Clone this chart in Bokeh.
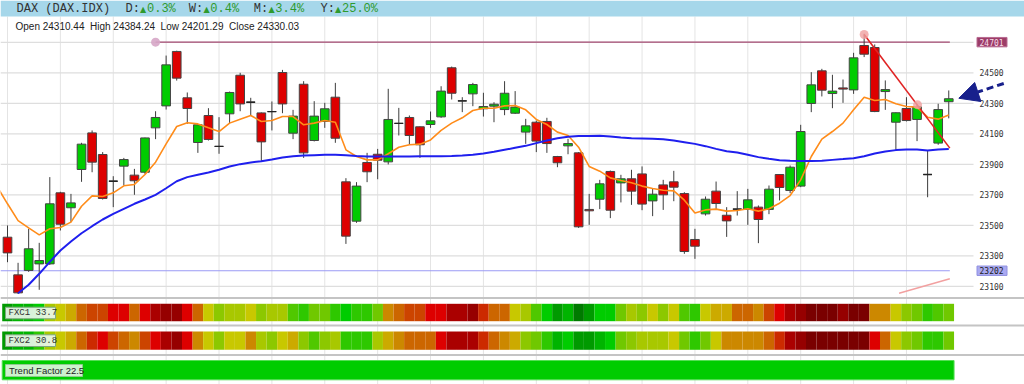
from bokeh.plotting import figure
from bokeh.models import Range1d, Arrow, NormalHead
from bokeh.core.properties import value
from bokeh.embed import file_html
from bokeh.resources import INLINE

# ---------------- data ----------------
title_name = "DAX (DAX.IDX)"
period_labels = ["D:", "W:", "M:", "Y:"]
period_changes = ["0.3%", "0.4%", "3.4%", "25.0%"]
ohlc_caption = "Open 24310.44\u00a0 High 24384.24\u00a0 Low 24201.29\u00a0 Close 24330.03"

open_ = [23422, 23175, 23204, 23247, 23247, 23713, 23615, 23866, 24106, 23964,
         23789, 23888, 23829, 23848, 24139, 24283, 24640, 24336, 24043, 24220,
         24017, 24231, 24484, 24307, 24237, 24246, 24502, 24104, 24425, 24056,
         24181, 24340, 23785, 23527, 23912, 23966, 23916, 24168, 24207, 24146,
         24161, 24211, 24533, 24316, 24362, 24264, 24281, 24259, 24235, 24111,
         24176, 24181, 23951, 24021, 23975, 23604, 23671, 23853, 23778, 23805,
         23837, 23660, 23765, 23785, 23708, 23407, 23575, 23724, 23566, 23606,
         23604, 23619, 23604, 23833, 23728, 23757, 24299, 24513, 24364, 24401,
         24388, 24679, 24666, 24377, 24176, 24266, 24194, 23833, 24039, 24310.44]
high = [23499, 23254, 23477, 23385, 23816, 23720, 23706, 24041, 24122, 23980,
        23822, 23942, 23870, 24075, 24248, 24613, 24645, 24371, 24162, 24268,
        24209, 24377, 24500, 24336, 24240, 24312, 24519, 24257, 24445, 24314,
        24303, 24434, 23809, 23783, 23975, 24001, 24395, 24270, 24220, 24148,
        24246, 24412, 24541, 24340, 24434, 24369, 24307, 24445, 24380, 24198,
        24187, 24205, 23955, 24067, 23980, 23706, 23798, 23859, 23831, 23864,
        23886, 23741, 23798, 23857, 23717, 23477, 23689, 23787, 23619, 23724,
        23739, 23630, 23761, 23835, 23892, 24159, 24504, 24526, 24487, 24456,
        24631, 24756, 24686, 24450, 24240, 24340, 24292, 23990, 24297, 24384.24]
low = [23258, 23050, 23195, 23077, 23240, 23466, 23521, 23785, 23848, 23669,
       23619, 23761, 23700, 23837, 24065, 24259, 24449, 24165, 23975, 24056,
       23969, 24170, 24248, 24220, 23920, 24122, 24235, 24065, 23942, 24050,
       24139, 24041, 23378, 23516, 23783, 23802, 23899, 24089, 24032, 23942,
       24139, 24205, 24325, 24242, 24281, 24213, 24176, 24222, 24230, 24034,
       23980, 23975, 23881, 23966, 23483, 23503, 23606, 23547, 23650, 23634,
       23599, 23560, 23601, 23658, 23313, 23280, 23564, 23604, 23424, 23564,
       23503, 23383, 23573, 23663, 23711, 23750, 24242, 24345, 24268, 24303,
       24362, 24603, 24242, 24257, 23990, 24181, 24052, 23684, 24028, 24201.29]
close = [23319, 23057, 23346, 23269, 23641, 23507, 23647, 24032, 23914, 23676,
         23789, 23931, 23792, 24073, 24207, 24552, 24465, 24266, 24159, 24063,
         24017, 24371, 24296, 24307, 24047, 24246, 24296, 24216, 23975, 24216,
         24264, 24071, 23429, 23757, 23851, 23927, 24194, 24168, 24089, 24028,
         24185, 24380, 24366, 24316, 24423, 24279, 24294, 24366, 24275, 24152,
         24052, 24036, 23910, 24036, 23490, 23595, 23772, 23599, 23805, 23724,
         23639, 23704, 23700, 23750, 23328, 23363, 23671, 23643, 23529, 23606,
         23667, 23538, 23737, 23748, 23881, 24115, 24421, 24386, 24380, 24393,
         24598, 24622, 24246, 24390, 24238, 24187, 24277, 23833, 24259, 24330.03]

# short moving average (orange), first value is the bar before the window
fast_ma_prev = 23756
fast_ma = [23641, 23531, 23483, 23437, 23477, 23486, 23521, 23625, 23693, 23689,
           23713, 23759, 23768, 23833, 23914, 24034, 24148, 24172, 24165, 24139,
           24115, 24170, 24196, 24220, 24181, 24187, 24213, 24213, 24159, 24170,
           24187, 24176, 23995, 23951, 23929, 23929, 23969, 24012, 24028, 24032,
           24060, 24122, 24170, 24205, 24253, 24268, 24268, 24283, 24286, 24257,
           24194, 24161, 24111, 24089, 24012, 23886, 23855, 23811, 23794, 23779,
           23757, 23741, 23730, 23726, 23665, 23580, 23601, 23606, 23593, 23597,
           23608, 23593, 23608, 23645, 23695, 23798, 23951, 24065, 24115, 24170,
           24257, 24340, 24318, 24325, 24297, 24279, 24275, 24209, 24196, 24224]
# long moving average (blue), starts at bar 2
slow_ma = [None, 23055, 23110, 23182, 23260, 23335, 23394, 23448, 23494, 23538,
           23575, 23608, 23641, 23669, 23700, 23743, 23789, 23816, 23831, 23846,
           23864, 23886, 23901, 23912, 23920, 23931, 23945, 23953, 23958, 23960,
           23962, 23962, 23960, 23955, 23951, 23951, 23951, 23951, 23951, 23953,
           23953, 23953, 23955, 23958, 23962, 23971, 23982, 23995, 24008, 24021,
           24039, 24056, 24071, 24080, 24085, 24085, 24087, 24082, 24076, 24071,
           24069, 24067, 24065, 24056, 24045, 24034, 24019, 24001, 23986, 23977,
           23962, 23947, 23936, 23927, 23923, 23921, 23921, 23923, 23929, 23934,
           23940, 23953, 23971, 23984, 23993, 23997, 23997, 23990, 23997, 24001]

ytick_values = [23100, 23300, 23500, 23700, 23900, 24100, 24300, 24500]
ygrid_values = [23100, 23300, 23500, 23700, 23900, 24100, 24300, 24500, 24700]
resistance_level = 24701
resistance_start_bar = 15
support_level = 23202
trend_bars = [82, 90.1]
trend_prices = [24751, 24006]
trend_marks_bars = [82, 87.05]
trend_marks_prices = [24751, 24290]
low_trend_bars = [85.3, 90.1]
low_trend_prices = [23055, 23149]
arrow_bars = [95.2, 90.95]
arrow_prices = [24430, 24333]

fxc1_name, fxc1_value = "FXC1", "33.7"
fxc2_name, fxc2_value = "FXC2", "30.8"
trend_factor_text = "Trend Factor 22.5"
fxc1_levels = [1, 2, 2, 3, 8, 9, 10, 12, 13, 13,
               15, 15, 12, 15, 16, 17, 17, 15, 12, 9,
               7, 8, 8, 9, 7, 8, 8, 5, 4, 6,
               6, 4, 3, 4, 4, 6, 11, 12, 13, 13,
               15, 15, 16, 16, 17, 14, 12, 12, 9, 8,
               5, 3, 1, 2, 0, 1, 3, 3, 6, 8,
               7, 9, 7, 9, 5, 4, 9, 10, 10, 12,
               12, 11, 13, 15, 16, 17, 18, 18, 18, 17,
               18, 18, 11, 11, 9, 7, 6, 4, 5, 6]
fxc2_levels = [1, 2, 2, 4, 8, 9, 10, 12, 14, 15,
               13, 12, 11, 13, 15, 16, 17, 15, 11, 9,
               7, 9, 9, 11, 8, 7, 9, 10, 7, 5,
               7, 8, 4, 4, 4, 8, 10, 11, 12, 12,
               12, 15, 16, 16, 16, 14, 12, 11, 10, 7,
               6, 4, 2, 3, 1, 1, 2, 3, 6, 7,
               8, 8, 8, 9, 6, 4, 6, 9, 11, 11,
               11, 11, 12, 14, 16, 17, 18, 18, 18, 18,
               18, 18, 15, 12, 9, 7, 6, 4, 4, 6]

# ---------------- styles / layout ----------------
heat_palette = ["#007a00", "#009a00", "#00b400", "#00cc00", "#2ec800", "#50c800",
                "#70c800", "#8cc800", "#a8c800", "#c8c800", "#ccaa00", "#cc8800",
                "#cc6600", "#cc4400", "#cc2a00", "#dd0000", "#aa0000", "#960000",
                "#7a0000"]
W, H = 1024, 384
PX_PER_BAR = 10.576
FIRST_BAR_PX = 7.0
PX_PER_POINT = 0.1525
REF_PRICE, REF_ROW = 24500, 72.3
X0 = 1 - FIRST_BAR_PX / PX_PER_BAR
X1 = X0 + W / PX_PER_BAR
P_TOP = REF_PRICE + REF_ROW / PX_PER_POINT
P_BOT = P_TOP - H / PX_PER_POINT

GREEN, RED = "#00cc00", "#dd0000"
NAVY = "#18208c"

n = len(close)
bars = list(range(1, n + 1))
body_top = [max(o, c) for o, c in zip(open_, close)]
body_bot = [min(o, c) for o, c in zip(open_, close)]
body_col = [GREEN if c >= o else RED for o, c in zip(open_, close)]
doji = [i for i, o, c in zip(bars, open_, close) if o == c]
doji_p = [c for o, c in zip(open_, close) if o == c]

p = figure(width=W, height=H, x_range=Range1d(X0, X1), y_range=Range1d(P_BOT, P_TOP),
           output_backend="svg", toolbar_location=None, min_border=0,
           x_axis_location=None, y_axis_location=None, title_location=None,
           outline_line_color=None, background_fill_color="white",
           border_fill_color="white")
p.xgrid.visible = False
p.ygrid.visible = False
p.extra_x_ranges = {"px": Range1d(0, W)}
p.extra_y_ranges = {"rows": Range1d(H, 0)}

# vertical grid every 5 bars
vx = bars[::5]
p.segment(x0=vx, x1=vx, y0=[16] * len(vx), y1=[H] * len(vx), y_range_name="rows",
          line_color="#e4e4e4", line_width=1)
# horizontal grid
p.segment(x0=[0] * len(ygrid_values), x1=[973] * len(ygrid_values),
          y0=ygrid_values, y1=ygrid_values, x_range_name="px",
          line_color="#dedede", line_width=1.2)
# pane separators
for r in (297.5, 325, 354.5):
    p.segment(x0=[0], x1=[W], y0=[r], y1=[r], x_range_name="px", y_range_name="rows",
              line_color="#c4c4c4", line_width=2)

# heat strips
left = [b - 0.5 for b in bars]
right = [b + 0.5 for b in bars]
p.quad(left=left, right=right, top=[303.3] * n, bottom=[320.7] * n, y_range_name="rows",
       fill_color=[heat_palette[v] for v in fxc1_levels], line_color=None)
p.quad(left=left, right=right, top=[331] * n, bottom=[349.3] * n, y_range_name="rows",
       fill_color=[heat_palette[v] for v in fxc2_levels], line_color=None)
p.quad(left=[0.5], right=[n + 0.5], top=[360], bottom=[379.3], y_range_name="rows",
       fill_color="#00cc00", line_color="#55dd55", line_width=1)

# level lines
p.line(x=[X0, trend_bars[1]], y=[support_level, support_level], line_color="#9a9af5",
       line_width=1.2)
p.line(x=[resistance_start_bar, trend_bars[1]], y=[resistance_level, resistance_level],
       line_color="#a44a72", line_width=1.2)
p.scatter(x=[resistance_start_bar], y=[resistance_level], size=9, fill_color="#d6a6c6",
          line_color=None, fill_alpha=0.9)
p.line(x=low_trend_bars, y=low_trend_prices, line_color="#f2a0a0", line_width=1.5)

# candles
p.segment(x0=bars, x1=bars, y0=high, y1=low, line_color="#3c3c3c", line_width=1)
p.vbar(x=bars, width=0.82, top=body_top, bottom=body_bot, fill_color=body_col,
       line_color="#444444", line_width=1)
p.segment(x0=[d - 0.41 for d in doji], x1=[d + 0.41 for d in doji], y0=doji_p, y1=doji_p,
          line_color="#222222", line_width=1.3)

# moving averages
p.line(x=[0] + bars, y=[fast_ma_prev] + fast_ma, line_color="#ff8c1a", line_width=1.6)
p.line(x=bars, y=[float("nan") if v is None else v for v in slow_ma],
       line_color="#1f1fee", line_width=2)

# trend line
p.line(x=trend_bars, y=trend_prices, line_color="#e02424", line_width=1.6)
p.scatter(x=trend_marks_bars, y=trend_marks_prices, size=9, fill_color="#f0a0a0",
          fill_alpha=0.8, line_color=None)

# price labels on the right
mono = value("DejaVu Sans Mono")
p.text(x=[979] * len(ytick_values), y=ytick_values, text=[str(v) for v in ytick_values],
       x_range_name="px", text_font=mono, text_font_size="8px", text_color="#333333",
       text_baseline="middle", text_align="left")
half = 4.7 / PX_PER_POINT
p.quad(left=[976.5], right=[1006.5], top=[resistance_level + half],
       bottom=[resistance_level - half], x_range_name="px", fill_color="#9c3d68",
       line_color="#b86a90")
p.text(x=[979], y=[resistance_level], text=[str(resistance_level)], x_range_name="px",
       text_font=mono, text_font_size="8px", text_color="#f6dce9",
       text_baseline="middle", text_align="left")
p.quad(left=[976.5], right=[1006.5], top=[support_level + half],
       bottom=[support_level - half], x_range_name="px", fill_color="#a9a9f2",
       line_color="#9090e0")
p.text(x=[979], y=[support_level], text=[str(support_level)], x_range_name="px",
       text_font=mono, text_font_size="8px", text_color="#222222",
       text_baseline="middle", text_align="left")

# strip labels
p.quad(left=[5, 5], right=[55, 55], top=[306.7, 334.3], bottom=[318.3, 346],
       x_range_name="px", y_range_name="rows", fill_color="#ecf6ec", fill_alpha=0.92,
       line_color="#7fa87f", line_width=1)
p.text(x=[8, 8], y=[312.7, 340.3],
       text=[f"{fxc1_name} {fxc1_value}", f"{fxc2_name} {fxc2_value}"],
       x_range_name="px", y_range_name="rows", text_font=value("Liberation Mono"),
       text_font_size="9px", text_color="#333333", text_baseline="middle",
       text_align="left")
p.quad(left=[5], right=[82], top=[364], bottom=[376], x_range_name="px",
       y_range_name="rows", fill_color="#d9f2d9", fill_alpha=0.95,
       line_color="#8fcc8f", line_width=1)
p.text(x=[8.5], y=[370.2], text=[trend_factor_text], x_range_name="px", y_range_name="rows",
       text_font=value("Liberation Sans"), text_font_size="9.5px", text_color="#222222",
       text_baseline="middle", text_align="left")

# OHLC caption
p.text(x=[15], y=[25.5], text=[ohlc_caption], x_range_name="px", y_range_name="rows",
       text_font=value("Liberation Sans"), text_font_size="10px", text_color="#222222",
       text_baseline="middle", text_align="left")

# header bar
p.quad(left=[0], right=[W], top=[0], bottom=[16], x_range_name="px", y_range_name="rows",
       fill_color="#a6d7ea", line_color=None)
hmono = value("Liberation Mono")
p.text(x=[16], y=[8], text=[title_name], x_range_name="px", y_range_name="rows",
       text_font=hmono, text_font_size="12px", text_color="#333333",
       text_baseline="middle", text_align="left")
label_x = [125, 188.3, 253.3, 320]
p.text(x=label_x, y=[8] * 4, text=period_labels, x_range_name="px", y_range_name="rows",
       text_font=hmono, text_font_size="12px", text_color="#333333",
       text_baseline="middle", text_align="left")
p.text(x=[x + 14.6 for x in label_x], y=[8.5] * 4, text=["\u25b2"] * 4, x_range_name="px",
       y_range_name="rows", text_font=value("DejaVu Sans"), text_font_size="8px",
       text_color="#2e9a2e", text_baseline="middle", text_align="left")
p.text(x=[x + 21.5 for x in label_x], y=[8] * 4, text=period_changes, x_range_name="px",
       y_range_name="rows", text_font=hmono, text_font_size="12px", text_color="#2e9a2e",
       text_baseline="middle", text_align="left")

# arrow pointing at the last bar
p.add_layout(Arrow(end=NormalHead(size=20, fill_color=NAVY, line_color=NAVY),
                   x_start=arrow_bars[0], y_start=arrow_prices[0],
                   x_end=arrow_bars[1], y_end=arrow_prices[1],
                   line_color=NAVY, line_width=3, line_dash="7 4"))

open("out.html", "w").write(file_html(p, INLINE))
